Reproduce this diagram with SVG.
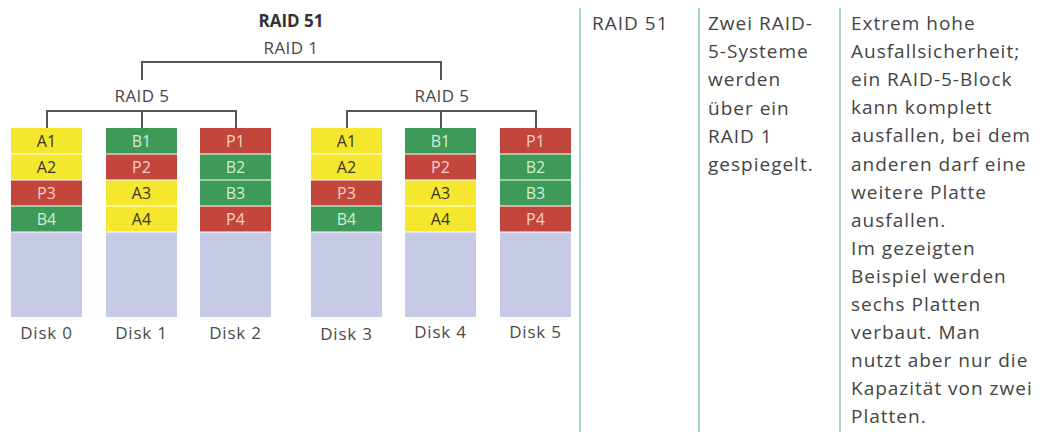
<svg xmlns="http://www.w3.org/2000/svg" width="1039" height="432" viewBox="0 0 1039 432">
<style>
text{font-family:"Open Sans","Noto Sans","Liberation Sans",sans-serif;fill:#484848}
.h{font-size:17px;text-anchor:middle;letter-spacing:0.4px}
.hb{font-size:17px;text-anchor:middle;font-weight:bold;fill:#333}
.bl{font-size:16px;text-anchor:middle;font-weight:500}
.y{fill:#f5e72e}.g{fill:#3e9a58}.r{fill:#c2463b}.l{fill:#c7cae4}
.ty{fill:#3a3520}.tg{fill:#d4eed6}.tr{fill:#f6d0c8}
.dl{font-size:17px;text-anchor:middle;fill:#4a4a4a;letter-spacing:0.8px}
.sep{stroke:#a9d9c3;stroke-width:2}
.c{fill:none;stroke:#555;stroke-width:2}
.tx{font-size:19px;fill:#444;letter-spacing:1px;font-weight:500}
.div{stroke:#fff;stroke-width:1.2}
</style>
<defs>
<g id="divs">
<line class="div" x1="0" y1="154" x2="71" y2="154"/>
<line class="div" x1="0" y1="180" x2="71" y2="180"/>
<line class="div" x1="0" y1="206" x2="71" y2="206"/>
<line class="div" x1="0" y1="232" x2="71" y2="232"/>
</g>
</defs>
<rect width="1039" height="432" fill="#fff"/>

<g id="labels">
<text class="hb" x="291" y="27">RAID 51</text>
<text class="h" x="291" y="54">RAID 1</text>
<text class="h" x="142" y="102">RAID 5</text>
<text class="h" x="442" y="102">RAID 5</text>
</g>

<g id="connectors">
<path class="c" d="M142 80V62H441V80"/>
<path class="c" d="M47 128V111H236V128M142 111V128"/>
<path class="c" d="M347 128V111H536V128M441 111V128"/>
</g>

<g id="disk0" transform="translate(11,0)">
<rect class="y" x="0" y="128" width="71" height="26"/><text class="bl ty" x="35.5" y="147">A1</text>
<rect class="y" x="0" y="154" width="71" height="26"/><text class="bl ty" x="35.5" y="173">A2</text>
<rect class="r" x="0" y="180" width="71" height="26"/><text class="bl tr" x="35.5" y="199">P3</text>
<rect class="g" x="0" y="206" width="71" height="26"/><text class="bl tg" x="35.5" y="225">B4</text>
<rect class="l" x="0" y="232" width="71" height="85"/>
<use href="#divs"/>
<text class="dl" x="35.5" y="339">Disk 0</text>
</g>
<g id="disk1" transform="translate(106,0)">
<rect class="g" x="0" y="128" width="71" height="26"/><text class="bl tg" x="35.5" y="147">B1</text>
<rect class="r" x="0" y="154" width="71" height="26"/><text class="bl tr" x="35.5" y="173">P2</text>
<rect class="y" x="0" y="180" width="71" height="26"/><text class="bl ty" x="35.5" y="199">A3</text>
<rect class="y" x="0" y="206" width="71" height="26"/><text class="bl ty" x="35.5" y="225">A4</text>
<rect class="l" x="0" y="232" width="71" height="85"/>
<use href="#divs"/>
<text class="dl" x="35.5" y="339">Disk 1</text>
</g>
<g id="disk2" transform="translate(200,0)">
<rect class="r" x="0" y="128" width="71" height="26"/><text class="bl tr" x="35.5" y="147">P1</text>
<rect class="g" x="0" y="154" width="71" height="26"/><text class="bl tg" x="35.5" y="173">B2</text>
<rect class="g" x="0" y="180" width="71" height="26"/><text class="bl tg" x="35.5" y="199">B3</text>
<rect class="r" x="0" y="206" width="71" height="26"/><text class="bl tr" x="35.5" y="225">P4</text>
<rect class="l" x="0" y="232" width="71" height="85"/>
<use href="#divs"/>
<text class="dl" x="35.5" y="339">Disk 2</text>
</g>
<g id="disk3" transform="translate(311,0)">
<rect class="y" x="0" y="128" width="71" height="26"/><text class="bl ty" x="35.5" y="147">A1</text>
<rect class="y" x="0" y="154" width="71" height="26"/><text class="bl ty" x="35.5" y="173">A2</text>
<rect class="r" x="0" y="180" width="71" height="26"/><text class="bl tr" x="35.5" y="199">P3</text>
<rect class="g" x="0" y="206" width="71" height="26"/><text class="bl tg" x="35.5" y="225">B4</text>
<rect class="l" x="0" y="232" width="71" height="85"/>
<use href="#divs"/>
<text class="dl" x="35.5" y="340">Disk 3</text>
</g>
<g id="disk4" transform="translate(405,0)">
<rect class="g" x="0" y="128" width="71" height="26"/><text class="bl tg" x="35.5" y="147">B1</text>
<rect class="r" x="0" y="154" width="71" height="26"/><text class="bl tr" x="35.5" y="173">P2</text>
<rect class="y" x="0" y="180" width="71" height="26"/><text class="bl ty" x="35.5" y="199">A3</text>
<rect class="y" x="0" y="206" width="71" height="26"/><text class="bl ty" x="35.5" y="225">A4</text>
<rect class="l" x="0" y="232" width="71" height="85"/>
<use href="#divs"/>
<text class="dl" x="35.5" y="338">Disk 4</text>
</g>
<g id="disk5" transform="translate(500,0)">
<rect class="r" x="0" y="128" width="71" height="26"/><text class="bl tr" x="35.5" y="147">P1</text>
<rect class="g" x="0" y="154" width="71" height="26"/><text class="bl tg" x="35.5" y="173">B2</text>
<rect class="g" x="0" y="180" width="71" height="26"/><text class="bl tg" x="35.5" y="199">B3</text>
<rect class="r" x="0" y="206" width="71" height="26"/><text class="bl tr" x="35.5" y="225">P4</text>
<rect class="l" x="0" y="232" width="71" height="85"/>
<use href="#divs"/>
<text class="dl" x="35.5" y="338">Disk 5</text>
</g>

<g id="table">
<line class="sep" x1="580" y1="8" x2="580" y2="432"/>
<line class="sep" x1="699" y1="8" x2="699" y2="432"/>
<line class="sep" x1="840" y1="8" x2="840" y2="432"/>
<text class="tx" x="592" y="30">RAID 51</text>
<text class="tx" x="708" y="30">
<tspan x="708" y="30">Zwei RAID-</tspan>
<tspan x="708" y="58.2">5-Systeme</tspan>
<tspan x="708" y="86.4">werden</tspan>
<tspan x="708" y="114.6">über ein</tspan>
<tspan x="708" y="142.8">RAID 1</tspan>
<tspan x="708" y="171">gespiegelt.</tspan>
</text>
<text class="tx" x="851" y="30">
<tspan x="851" y="30">Extrem hohe</tspan>
<tspan x="851" y="58.1">Ausfallsicherheit;</tspan>
<tspan x="851" y="86.2">ein RAID-5-Block</tspan>
<tspan x="851" y="114.3">kann komplett</tspan>
<tspan x="851" y="142.4">ausfallen, bei dem</tspan>
<tspan x="851" y="170.5">anderen darf eine</tspan>
<tspan x="851" y="198.6">weitere Platte</tspan>
<tspan x="851" y="226.7">ausfallen.</tspan>
<tspan x="851" y="254.8">Im gezeigten</tspan>
<tspan x="851" y="282.9">Beispiel werden</tspan>
<tspan x="851" y="311">sechs Platten</tspan>
<tspan x="851" y="339.1">verbaut. Man</tspan>
<tspan x="851" y="367.2">nutzt aber nur die</tspan>
<tspan x="851" y="395.3">Kapazität von zwei</tspan>
<tspan x="851" y="423.4">Platten.</tspan>
</text>
</g>
</svg>
